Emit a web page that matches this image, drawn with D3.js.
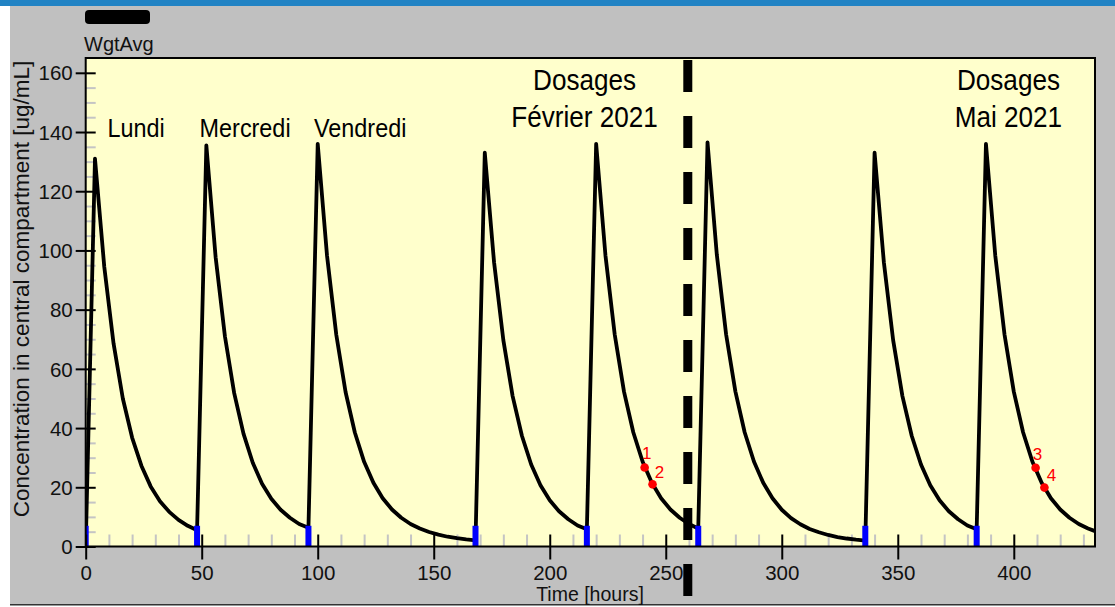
<!DOCTYPE html>
<html>
<head>
<meta charset="utf-8">
<script src="https://cdn.jsdelivr.net/npm/d3@7"></script>
<style>
  html, body { margin: 0; padding: 0; background: #ffffff; }
  svg { display: block; font-family: "Liberation Sans", Arial, sans-serif; }
</style>
</head>
<body>
<svg id="chart" width="1115" height="607"></svg>
<script>
// ---------- DATA ----------
const times = [0,4,8,12,16,20,24,28,32,36,40,44,48,52,56,60,64,68,72,76,80,84,88,92,96,100,104,108,112,116,120,124,128,132,136,140,144,148,152,156,160,164,168,172,176,180,184,188,192,196,200,204,208,212,216,220,224,228,232,236,240,244,248,252,256,260,264,268,272,276,280,284,288,292,296,300,304,308,312,316,320,324,328,332,336,340,344,348,352,356,360,364,368,372,376,380,384,388,392,396,400,404,408,412,416,420,424,428,432,436];
const concentration = [0,131,94.5,68.6,50.0,36.8,27.3,20.3,15.3,11.7,9.0,7.0,5.5,135.5,97.7,71.0,51.8,38.1,28.3,21.2,16.1,12.4,9.7,7.6,6.3,136,98.3,71.5,52.2,38.5,28.6,21.5,16.3,12.5,9.7,7.6,6.1,4.9,4.0,3.3,2.8,2.4,2.1,133,96.0,69.7,50.8,37.4,27.7,20.7,15.6,11.9,9.2,7.1,5.8,136,98.4,71.6,52.3,38.6,28.7,21.5,16.3,12.5,9.7,7.6,6.1,136.5,98.6,71.7,52.4,38.6,28.7,21.5,16.3,12.4,9.6,7.5,5.9,4.8,3.9,3.2,2.7,2.3,2.0,133,96.0,69.7,50.8,37.4,27.7,20.7,15.6,11.9,9.2,7.1,5.8,136,98.4,71.6,52.3,38.6,28.7,21.5,16.3,12.5,9.7,7.6,6.1,4.9];
const doseTimes = [0,48,96,168,216,264,336,384];
const doseMarkHeight = 7;
const obsTimes = [240.9,244.3,409.4,413.2];
const obsValues = [26.7,21.0,26.6,19.9];
const obsLabels = ["1","2","3","4"];
const dividerTime = 259.5;
const xTicks = [0,50,100,150,200,250,300,350,400];
const xMinor = [10,20,30,40,60,70,80,90,110,120,130,140,160,170,180,190,210,220,230,240,260,270,280,290,310,320,330,340,360,370,380,390,410,420,430];
const yTicks = [0,20,40,60,80,100,120,140,160];
const yMinor = [5,10,15,25,30,35,45,50,55,65,70,75,85,90,95,105,110,115,125,130,135,145,150,155];
const dayLabels = ["Lundi","Mercredi","Vendredi"];
const dayLabelTimes = [21.7,68.7,118.3];
const dayLabelValue = 138.2;
const periodLines1 = ["Dosages","Dosages"];
const periodLines2 = ["Février 2021","Mai 2021"];
const periodTimes = [215.0,397.7];
const xDomain = [0,435];
const yDomain = [0,165];
const legendLabel = "WgtAvg";
const xTitle = "Time [hours]";
const yTitle = "Concentration in central compartment [ug/mL]";

// ---------- LAYOUT ----------
const svg = d3.select("#chart");
const W = 1115, H = 607;
const plot = {left: 85.7, right: 1095, top: 58, bottom: 546.5};

const x = d3.scaleLinear().domain(xDomain).range([plot.left, plot.right]);
const y = d3.scaleLinear().domain(yDomain).range([plot.bottom, plot.top]);

// background
svg.append("rect").attr("x",0).attr("y",0).attr("width",W).attr("height",H).attr("fill","#ffffff");
svg.append("rect").attr("x",10).attr("y",6).attr("width",W-10).attr("height",598).attr("fill","#c0c0c0");
svg.append("rect").attr("x",0).attr("y",0).attr("width",W).attr("height",6).attr("fill","#2183c4");
svg.append("line").attr("x1",10).attr("x2",W).attr("y1",604.8).attr("y2",604.8).attr("stroke","#333").attr("stroke-width",1.6);

// plot area
svg.append("rect").attr("x",plot.left).attr("y",plot.top)
  .attr("width",plot.right-plot.left).attr("height",plot.bottom-plot.top)
  .attr("fill","#ffffcc");

svg.append("clipPath").attr("id","clip").append("rect")
  .attr("x",plot.left).attr("y",plot.top-2)
  .attr("width",plot.right-plot.left).attr("height",plot.bottom-plot.top+2);

// minor ticks
const gxm = svg.append("g").attr("transform",`translate(0,${plot.bottom})`)
  .call(d3.axisBottom(x).tickValues(xMinor).tickSize(-12).tickFormat(""));
gxm.select(".domain").remove();
gxm.selectAll("line").attr("stroke","#c4c4c4").attr("stroke-width",2);

const gym = svg.append("g").attr("transform",`translate(${plot.left},0)`)
  .call(d3.axisLeft(y).tickValues(yMinor).tickSize(-10).tickFormat(""));
gym.select(".domain").remove();
gym.selectAll("line").attr("stroke","#c4c4c4").attr("stroke-width",2);

// curve
const line = d3.line().x((d,i)=>x(times[i])).y(d=>y(d)).curve(d3.curveLinear);
svg.append("path").datum(concentration)
  .attr("clip-path","url(#clip)")
  .attr("d",line).attr("fill","none").attr("stroke","#000")
  .attr("stroke-width",3.8).attr("stroke-linejoin","round").attr("stroke-linecap","round");

// dose markers
svg.append("g").attr("clip-path","url(#clip)").selectAll("rect").data(doseTimes).join("rect")
  .attr("x",d=>x(d)-3).attr("width",6)
  .attr("y",y(doseMarkHeight)).attr("height",y(0)-y(doseMarkHeight))
  .attr("fill","#0000ff");

// observations
svg.append("g").selectAll("circle").data(obsValues).join("circle")
  .attr("cx",(d,i)=>x(obsTimes[i])).attr("cy",d=>y(d)).attr("r",4.3).attr("fill","#ff0000");
svg.append("g").selectAll("text").data(obsLabels).join("text")
  .attr("x",(d,i)=>x(obsTimes[i]) + (i%2===0 ? 2 : 7))
  .attr("y",(d,i)=>y(obsValues[i]) - (i%2===0 ? 8 : 6.5))
  .attr("text-anchor","middle").attr("font-size",17).attr("fill","#ff0000").text(d=>d);

// frame
svg.append("rect").attr("x",plot.left).attr("y",plot.top)
  .attr("width",plot.right-plot.left).attr("height",plot.bottom-plot.top)
  .attr("fill","none").attr("stroke","#000").attr("stroke-width",2);

// major axes
const gx = svg.append("g").attr("transform",`translate(0,${plot.bottom})`)
  .call(d3.axisBottom(x).tickValues(xTicks).tickSize(13).tickPadding(0).tickFormat(d3.format("d")));
gx.select(".domain").remove();
gx.selectAll(".tick line").attr("y1",-12).attr("y2",13).attr("stroke","#000").attr("stroke-width",2);
gx.selectAll(".tick text").attr("y",33).attr("dy",0).attr("font-size",20.5).attr("fill","#111")
  .attr("font-family","'Liberation Sans', Arial, sans-serif");

const gy = svg.append("g").attr("transform",`translate(${plot.left},0)`)
  .call(d3.axisLeft(y).tickValues(yTicks).tickSize(10).tickPadding(0).tickFormat(d3.format("d")));
gy.select(".domain").remove();
gy.selectAll(".tick line").attr("x1",10).attr("x2",-10).attr("stroke","#000").attr("stroke-width",2);
gy.selectAll(".tick text").attr("x",-13).attr("dy","0.35em").attr("font-size",20.5).attr("fill","#111")
  .attr("font-family","'Liberation Sans', Arial, sans-serif");

// divider dashed line
svg.append("line")
  .attr("x1",x(dividerTime)).attr("x2",x(dividerTime))
  .attr("y1",plot.top+2).attr("y2",598)
  .attr("stroke","#000").attr("stroke-width",9).attr("stroke-dasharray","32,24");

// annotations
const ann = svg.append("g").attr("fill","#000");
dayLabels.forEach((t,i)=>{
  const cx = x(dayLabelTimes[i]), cy = y(dayLabelValue);
  ann.append("text").attr("transform",`translate(${cx},${cy}) scale(0.9,1)`)
    .attr("text-anchor","middle").attr("font-size",26).text(t);
});
periodLines1.forEach((t,i)=>{
  const cx = x(periodTimes[i]);
  ann.append("text").attr("transform",`translate(${cx},90) scale(0.87,1)`)
    .attr("text-anchor","middle").attr("font-size",30).text(t);
  ann.append("text").attr("transform",`translate(${cx},127) scale(0.87,1)`)
    .attr("text-anchor","middle").attr("font-size",30).text(periodLines2[i]);
});

// legend
svg.append("rect").attr("x",85).attr("y",10).attr("width",65).attr("height",14).attr("rx",4).attr("fill","#000");
svg.append("text").attr("x",84).attr("y",51).attr("font-size",20).attr("fill","#111").text(legendLabel);

// axis titles
svg.append("text").attr("transform",`translate(28.5,${(58+520)/2}) rotate(-90)`)
  .attr("text-anchor","middle").attr("font-size",22.5).attr("fill","#111").text(yTitle);
svg.append("text").attr("x",590).attr("y",601).attr("text-anchor","middle")
  .attr("font-size",19.5).attr("fill","#111").text(xTitle);
</script>
</body>
</html>
